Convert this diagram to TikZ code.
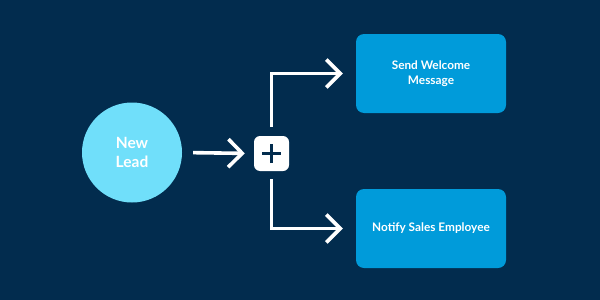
\documentclass[tikz,border=0pt]{standalone}
\usepackage{fontspec}
\setmainfont{Lato}
\usetikzlibrary{arrows.meta}
\definecolor{bgnavy}{RGB}{2,44,78}
\definecolor{leadcyan}{RGB}{112,223,250}
\definecolor{boxblue}{RGB}{0,155,218}
\tikzset{
  leadnode/.style={circle,fill=leadcyan,minimum size=100pt,inner sep=0pt,align=center,text=white,font=\fontsize{15.5}{19}\selectfont\bfseries},
  plusnode/.style={rectangle,rounded corners=6pt,fill=white,minimum size=35pt,inner sep=0pt},
  taskbox/.style={rectangle,rounded corners=8pt,fill=boxblue,minimum width=150pt,minimum height=79pt,inner sep=0pt,align=center,text=white,font=\fontsize{11.8}{15.5}\selectfont\bfseries},
  flow/.style={draw=white,line width=3.6pt,-{Straight Barb[length=14pt,width=28pt,line width=3.6pt]}},
  plusbar/.style={draw=bgnavy,line width=3.6pt}
}
\begin{document}
\begin{tikzpicture}[x=1pt,y=-1pt]
\fill[bgnavy] (0,0) rectangle (600,300);
\useasboundingbox (0,0) rectangle (600,300);
\node[leadnode] (lead) at (132,152.5) {New\\Lead};
\node[plusnode] (plus) at (271.5,153.5) {};
\node[taskbox] (send) at (431,73.5) {Send Welcome\\Message};
\node[taskbox] (notify) at (431,228.5) {Notify Sales Employee};
\draw[plusbar] ([xshift=-9.5pt]plus.center) -- ([xshift=9.5pt]plus.center);
\draw[plusbar] ([yshift=-9.5pt]plus.center) -- ([yshift=9.5pt]plus.center);
\draw[flow,shorten <=11pt,shorten >=9pt] (lead.east) -- (plus.west);
\draw[flow,shorten <=9pt,shorten >=13pt] (plus.north) |- (send.west);
\draw[flow,shorten <=8pt,shorten >=13pt] (plus.south) |- (notify.west);
\end{tikzpicture}
\end{document}
